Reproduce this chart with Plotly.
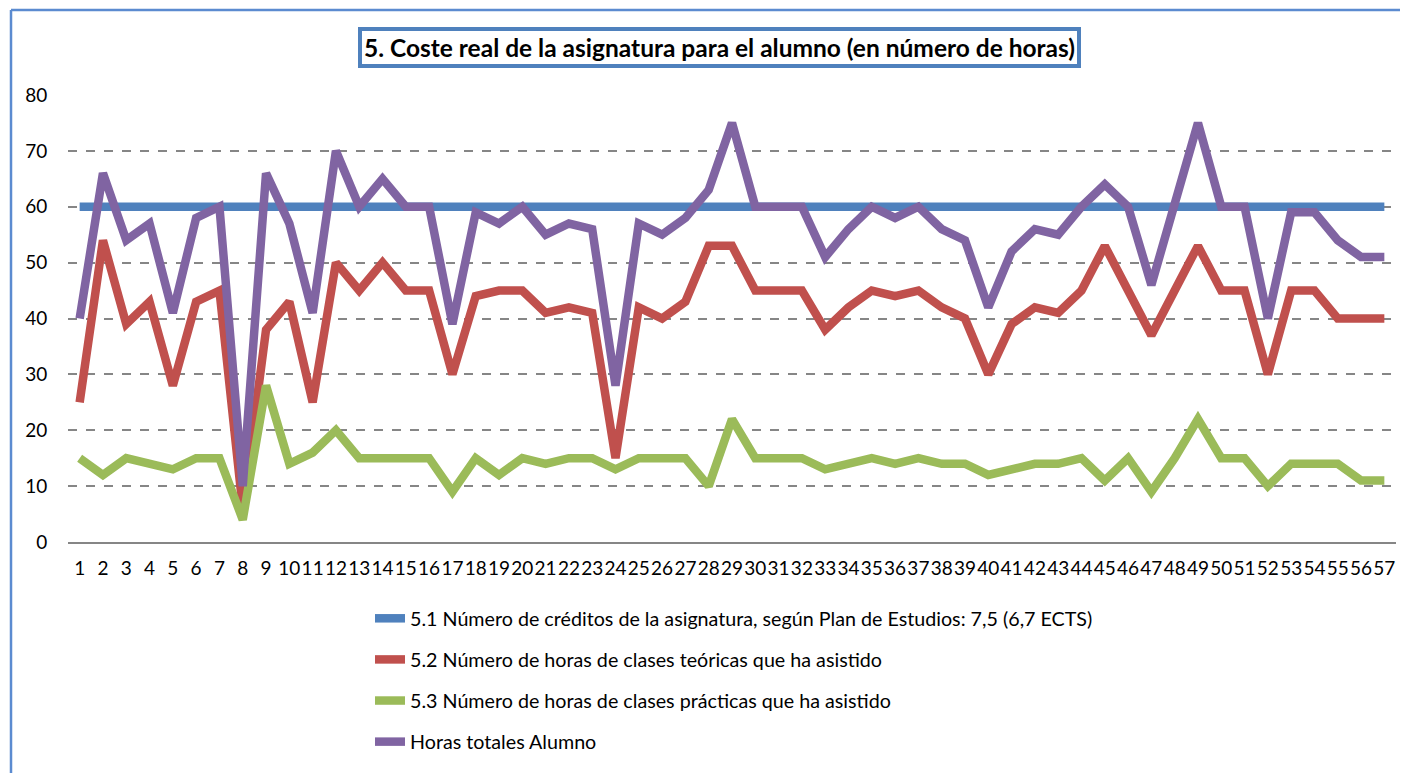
import plotly.graph_objects as go

alumnos = list(range(1, 58))

creditos = [60] * 57
teoricas = [25, 54, 39, 43, 28, 43, 45, 6, 38, 43, 25, 50, 45, 50, 45, 45, 30, 44, 45, 45,
            41, 42, 41, 15, 42, 40, 43, 53, 53, 45, 45, 45, 38, 42, 45, 44, 45, 42, 40, 30,
            39, 42, 41, 45, 53, 45, 37, 45, 53, 45, 45, 30, 45, 45, 40, 40, 40]
practicas = [15, 12, 15, 14, 13, 15, 15, 4, 28, 14, 16, 20, 15, 15, 15, 15, 9, 15, 12, 15,
             14, 15, 15, 13, 15, 15, 15, 10, 22, 15, 15, 15, 13, 14, 15, 14, 15, 14, 14, 12,
             13, 14, 14, 15, 11, 15, 9, 15, 22, 15, 15, 10, 14, 14, 14, 11, 11]
totales = [40, 66, 54, 57, 41, 58, 60, 10, 66, 57, 41, 70, 60, 65, 60, 60, 39, 59, 57, 60,
           55, 57, 56, 28, 57, 55, 58, 63, 75, 60, 60, 60, 51, 56, 60, 58, 60, 56, 54, 42,
           52, 56, 55, 60, 64, 60, 46, 60, 75, 60, 60, 40, 59, 59, 54, 51, 51]

series = [
    ("5.1 Número de créditos de la asignatura, según Plan de Estudios: 7,5 (6,7 ECTS)", creditos, "#4F81BD"),
    ("5.2 Número de horas de clases teóricas que ha asistido", teoricas, "#C0504D"),
    ("5.3 Número de horas de clases prácticas que ha asistido", practicas, "#9BBB59"),
    ("Horas totales Alumno", totales, "#8064A2"),
]

FONT = "Lato"
# the page body has an 8px margin, so work in page pixels and shift;
# figure is taller than the window so the legend never pushes the margin
OFF = 8
W, H = 1400, 790
left_px, right_px, top_px, bottom_px = 68, 1396, 95, 542
L, T = left_px - OFF, top_px - OFF
R = W - (right_px - OFF)
B = H - (bottom_px - OFF)
pw, ph = W - L - R, H - T - B


def px_x(p):
    return (p - left_px) / pw


def px_y(p):
    return (bottom_px - p) / ph


fig = go.Figure()
for i, (name, vals, color) in enumerate(series):
    fig.add_trace(go.Scatter(
        x=alumnos, y=vals, name=name, mode="lines",
        line=dict(color=color, width=8.5),
        legendgroup=f"g{i}", hoverinfo="skip",
    ))

fig.update_xaxes(
    type="category", range=[-0.5, 56.5], tickangle=0, automargin=False,
    tickmode="linear", dtick=1,
    showline=True, linecolor="#868686", linewidth=2,
    showgrid=False, zeroline=False,
    ticks="outside", ticklen=8, tickcolor="rgba(0,0,0,0)",
    tickfont=dict(family=FONT, size=19, color="#000"),
)
fig.update_yaxes(
    range=[0, 80], dtick=10, showline=False, zeroline=False, automargin=False,
    showgrid=True, gridcolor="#868686", gridwidth=1.5, griddash="dash",
    ticks="outside", ticklen=16, tickcolor="rgba(0,0,0,0)",
    tickfont=dict(family=FONT, size=19, color="#000"),
)

# outer chart frame: only the top and left edges are visible in the window
frame = dict(color="#5B8BD0", width=2.5)
fig.add_shape(type="line", xref="paper", yref="paper",
              x0=px_x(11), x1=px_x(1420), y0=px_y(10), y1=px_y(10), line=frame)
fig.add_shape(type="line", xref="paper", yref="paper",
              x0=px_x(11), x1=px_x(11), y0=px_y(10), y1=px_y(800), line=frame)

fig.add_annotation(
    text="<b>5. Coste real de la asignatura para el alumno (en número de horas)</b>",
    xref="paper", yref="paper", x=px_x(719), y=px_y(48),
    xanchor="center", yanchor="middle", showarrow=False,
    font=dict(family=FONT, size=24.5, color="#000"),
    bordercolor="#4F81BD", borderwidth=4, borderpad=2, bgcolor="white",
)

fig.update_layout(
    width=W, height=H,
    margin=dict(l=L, r=R, t=T, b=B),
    plot_bgcolor="white", paper_bgcolor="white",
    showlegend=True,
    legend=dict(
        orientation="v", x=px_x(370), y=px_y(599), xanchor="left", yanchor="top",
        font=dict(family=FONT, size=19.7, color="#000"),
        tracegroupgap=12.5, bgcolor="rgba(0,0,0,0)",
    ),
)

fig.write_html("out.html")
